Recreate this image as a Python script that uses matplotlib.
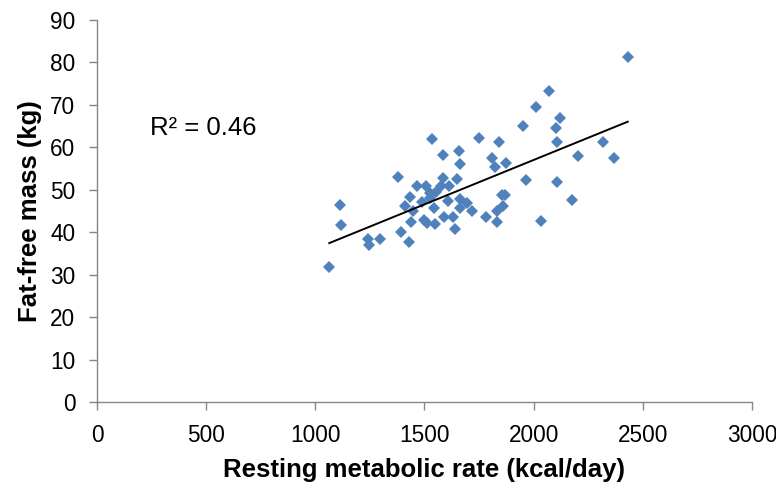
import numpy as np
import matplotlib
matplotlib.use('Agg')
import matplotlib.pyplot as plt

plt.rcParams['font.family'] = ['Liberation Sans', 'DejaVu Sans']

# resting metabolic rate (kcal/day) and fat-free mass (kg)
rmr = [1064, 1113, 1119, 1240, 1245, 1296, 1377, 1393, 1431, 1432,
       1412, 1449, 1437, 1467, 1487, 1498, 1510, 1507, 1525, 1536,
       1545, 1548, 1553, 1584, 1586, 1591, 1612, 1609, 1632, 1639,
       1650, 1657, 1664, 1663, 1663, 1694, 1716, 1750, 1781, 1809,
       1823, 1831, 1831, 1843, 2431, 2072, 2011, 2121, 1950, 2103,
       2106, 2319, 1874, 2205, 2368, 1964, 2106, 1854, 1869, 1858,
       2175, 2034, 1576, 1525]
ffm = [31.9, 46.5, 41.7, 38.4, 36.9, 38.4, 53.1, 40.0, 37.6, 48.4,
       46.1, 44.9, 42.5, 50.8, 47.2, 42.9, 42.3, 51.0, 49.2, 62.0,
       45.7, 41.9, 49.4, 52.9, 58.1, 43.6, 51.0, 47.3, 43.7, 40.7,
       52.5, 59.1, 56.2, 47.9, 45.7, 46.9, 44.9, 62.1, 43.7, 57.6,
       55.3, 44.9, 42.5, 61.2, 81.4, 73.2, 69.4, 67.0, 65.1, 64.5,
       61.2, 61.3, 56.3, 57.9, 57.6, 52.3, 51.9, 48.8, 48.8, 46.2,
       47.6, 42.7, 50.9, 48.1]
r2_label = 'R² = 0.46'

x = np.array(rmr)
y = np.array(ffm)

fig = plt.figure(figsize=(7.76, 4.88), dpi=100)
ax = fig.add_axes([0.125, 0.176, 0.844, 0.783])

ax.plot(x, y, linestyle='none', marker='D', markersize=6.6,
        color='#4f81bd', markeredgewidth=0)

# linear trend line over the data range
slope, icpt = np.polyfit(x, y, 1)
xl = np.array([x.min(), x.max()])
ax.plot(xl, slope * xl + icpt, color='black', linewidth=1.4)

ax.text(243, 64.6, r2_label, fontsize=18.5, ha='left', va='center')

ax.set_xlim(0, 3000)
ax.set_ylim(0, 90)
ax.set_xticks(np.arange(0, 3001, 500))
ax.set_yticks(np.arange(0, 91, 10))

for side in ['top', 'right']:
    ax.spines[side].set_visible(False)
for side in ['left', 'bottom']:
    ax.spines[side].set_color('#868686')
    ax.spines[side].set_linewidth(1.0)
ax.tick_params(direction='out', length=5.5, width=1, color='#868686',
               labelsize=16.3, pad=10)

ax.set_xlabel('Resting metabolic rate (kcal/day)', fontsize=18.5,
              fontweight='bold', labelpad=8)
ax.set_ylabel('Fat-free mass (kg)', fontsize=18.5, fontweight='bold',
              labelpad=6)

fig.savefig('out.png', dpi=100)
